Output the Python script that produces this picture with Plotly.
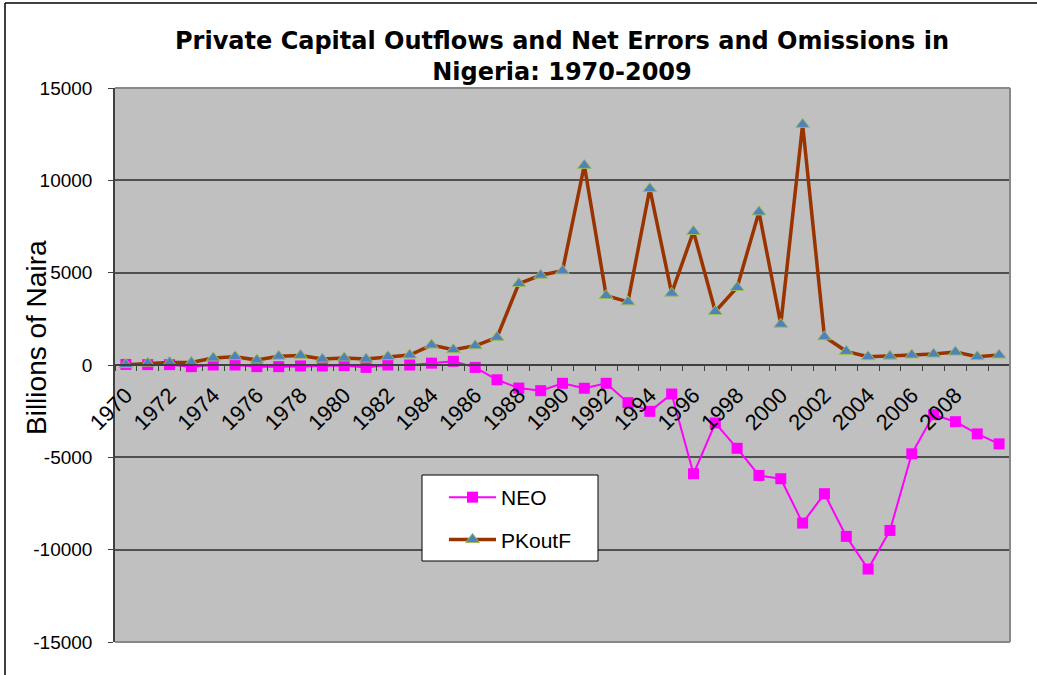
import plotly.graph_objects as go

years = list(range(1970, 2011))
neo = [30, 20, 20, -90, 0, 0, -90, -90, -50, -50, -30, -130, 0, 0, 100, 200, -130,
       -800, -1250, -1390, -990, -1260, -990, -2040, -2510, -1570, -5890, -3140, -4510,
       -5980, -6160, -8560, -6970, -9280, -11050, -8960, -4810, -2690, -3070, -3730, -4270]
pkoutf = [20, 100, 140, 140, 380, 450, 270, 470, 520, 320, 380, 320, 450, 540, 1080, 830, 1040,
          1500, 4410, 4860, 5100, 10810, 3760, 3420, 9550, 3890, 7230, 2900, 4200,
          8290, 2210, 13030, 1530, 740, 450, 480, 540, 590, 700, 450, 540]
tick_years = list(range(1970, 2009, 2))
tick_labels = [str(y) for y in tick_years]
y_ticks = [-15000, -10000, -5000, 0, 5000, 10000, 15000]
y_labels = [str(v) for v in y_ticks]

FONT = "Liberation Sans, Arial, sans-serif"
TFONT = "DejaVu Sans, Liberation Sans, sans-serif"

fig = go.Figure()
fig.add_trace(go.Scatter(
    x=years, y=neo, name="NEO", mode="lines+markers",
    line=dict(color="#FF00FF", width=2),
    marker=dict(symbol="square", size=11, color="#FF00FF"),
    legendgroup="a"))
fig.add_trace(go.Scatter(
    x=years, y=pkoutf, name="PKoutF", mode="lines+markers",
    line=dict(color="#993300", width=3.5),
    marker=dict(symbol="triangle-up", size=12, color="#4F81BD",
                line=dict(color="#9BBB59", width=1)),
    legendgroup="b"))

L, R, T, B = 115, 27, 88, 33
W, H = 1037, 675
pw, ph = W - L - R, H - T - B

def px(xp):
    return (xp - L) / pw

def py(yp):
    return (H - B - yp) / ph

fig.update_layout(
    width=W, height=H,
    margin=dict(l=L, r=R, t=T, b=B),
    paper_bgcolor="white", plot_bgcolor="#C0C0C0",
    font=dict(family=FONT, color="black", size=19),
    title=dict(text="<b>Private Capital Outflows and Net Errors and Omissions in<br>Nigeria: 1970-2009</b>",
               x=px(562), xref="paper", xanchor="center",
               y=1 - 49 / H, yanchor="top",
               font=dict(size=24, family=TFONT, color="black")),
    showlegend=True,
    legend=dict(x=px(444), y=py(477), xanchor="left", yanchor="top",
                bgcolor="rgba(0,0,0,0)", borderwidth=0,
                font=dict(size=21, family=FONT, color="black"),
                traceorder="grouped", tracegroupgap=12,
                itemwidth=47),
    xaxis=dict(
        range=[1969.5, 2010.5], anchor="free", position=0.5,
        tickmode="array", tickvals=tick_years, ticktext=tick_labels,
        tickangle=-45, ticks="", showgrid=False, zeroline=False,
        showline=True, linecolor="#404040", linewidth=1.5,
        ticklabelstandoff=8,
        tickfont=dict(size=22, family=FONT, color="black"),
        minor=dict(tickmode="linear", tick0=1969.5, dtick=1, ticks="outside",
                   ticklen=5, tickcolor="#404040", tickwidth=1, showgrid=False),
    ),
    yaxis=dict(
        range=[-15000, 15000], tickmode="array", tickvals=y_ticks, ticktext=y_labels,
        showgrid=True, gridcolor="#505050", gridwidth=1.5, zeroline=False,
        showline=True, linecolor="#404040", linewidth=1.5,
        ticks="outside", ticklen=5, tickcolor="#404040",
        ticklabelstandoff=12,
        tickfont=dict(size=19, family=FONT, color="black"),
    ),
    shapes=[
        # plot area border (top, right, bottom)
        dict(type="line", xref="paper", yref="paper", x0=0, x1=1, y0=1, y1=1,
             line=dict(color="#888888", width=2)),
        dict(type="line", xref="paper", yref="paper", x0=1, x1=1, y0=0, y1=1,
             line=dict(color="#888888", width=2)),
        dict(type="line", xref="paper", yref="paper", x0=0, x1=1, y0=0, y1=0,
             line=dict(color="#888888", width=2)),
        # legend box
        dict(type="rect", xref="paper", yref="paper", x0=px(422), x1=px(598),
             y0=py(475), y1=py(561), fillcolor="white",
             line=dict(color="black", width=1), layer="above"),
        # outer chart border
        dict(type="line", xref="paper", yref="paper", x0=px(5), x1=px(1040), y0=py(3), y1=py(3),
             line=dict(color="black", width=1.5)),
        dict(type="line", xref="paper", yref="paper", x0=px(5), x1=px(5), y0=py(3), y1=py(680),
             line=dict(color="black", width=1.5)),
    ],
    annotations=[
        dict(text="Billions of Naira", xref="paper", yref="paper",
             x=px(36), y=py(338), textangle=-90, showarrow=False,
             xanchor="center", yanchor="middle",
             font=dict(size=28, family=FONT, color="black")),
    ],
)

fig.write_html("out.html")
